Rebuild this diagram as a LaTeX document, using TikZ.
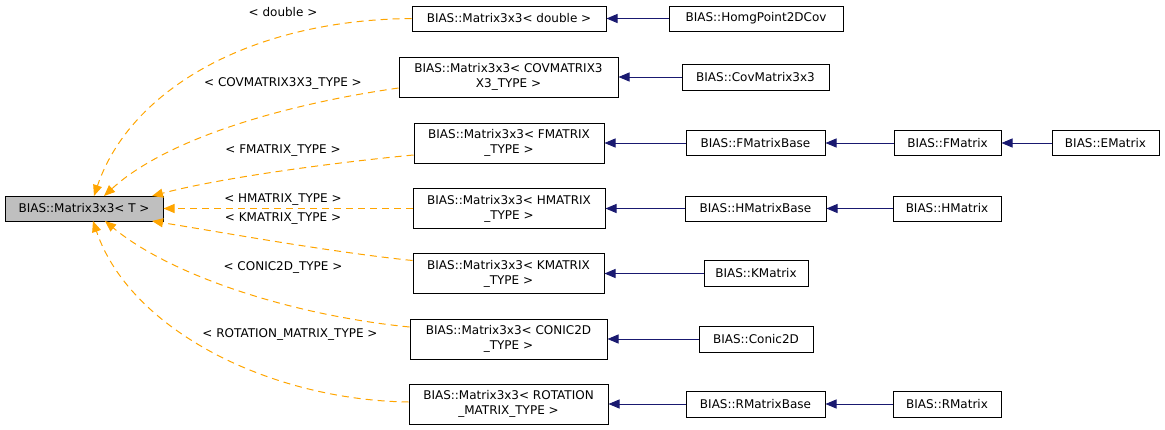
\documentclass[tikz,border=0pt]{standalone}
\usepackage{fontspec}
\setmainfont{DejaVu Sans}
\usetikzlibrary{arrows.meta,calc}
\definecolor{edgeorange}{HTML}{FFA500}
\definecolor{edgeblue}{HTML}{191970}
\definecolor{rootfill}{HTML}{BFBFBF}
\begin{document}
\begin{tikzpicture}[x=1pt,y=-1pt,
  box/.style={draw=black, line width=1pt, inner sep=0pt, align=center, font=\fontsize{12}{15}\selectfont},
  lbl/.style={inner sep=0pt, font=\fontsize{12}{15}\selectfont},
  inh/.style={draw=edgeblue, line width=1pt, -{Triangle[length=11pt,width=9pt]}},
  tmpl/.style={draw=edgeorange, line width=1pt, dash pattern=on 7pt off 5pt, -{Triangle[length=11pt,width=9pt]}}]
\useasboundingbox (0,0) rectangle (1165,429);

% root
\node[box, fill=rootfill, minimum width=158pt, minimum height=25pt] (root) at (84,208.5) {BIAS::Matrix3x3< T >};

% middle column
\node[box, minimum width=194pt, minimum height=25pt] (m1) at (509,18.5) {BIAS::Matrix3x3< double >};
\node[box, minimum width=219pt, minimum height=40pt] (m2) at (508.5,77) {BIAS::Matrix3x3< COVMATRIX3\\X3\_TYPE >};
\node[box, minimum width=190pt, minimum height=40pt] (m3) at (509,143) {BIAS::Matrix3x3< FMATRIX\\\_TYPE >};
\node[box, minimum width=192pt, minimum height=40pt] (m4) at (509,208.5) {BIAS::Matrix3x3< HMATRIX\\\_TYPE >};
\node[box, minimum width=191pt, minimum height=40pt] (m5) at (508.5,273.5) {BIAS::Matrix3x3< KMATRIX\\\_TYPE >};
\node[box, minimum width=197pt, minimum height=40pt] (m6) at (508.5,339) {BIAS::Matrix3x3< CONIC2D\\\_TYPE >};
\node[box, minimum width=199pt, minimum height=40pt] (m7) at (508.5,404) {BIAS::Matrix3x3< ROTATION\\\_MATRIX\_TYPE >};

% right column
\node[box, minimum width=174pt, minimum height=25pt] (r1) at (756,18.5) {BIAS::HomgPoint2DCov};
\node[box, minimum width=147pt, minimum height=26pt] (r2) at (755.5,77) {BIAS::CovMatrix3x3};
\node[box, minimum width=139pt, minimum height=25pt] (r3) at (755.5,143) {BIAS::FMatrixBase};
\node[box, minimum width=141pt, minimum height=25pt] (r4) at (755.5,208.5) {BIAS::HMatrixBase};
\node[box, minimum width=104pt, minimum height=26pt] (r5) at (756,273.5) {BIAS::KMatrix};
\node[box, minimum width=114pt, minimum height=26pt] (r6) at (756,339) {BIAS::Conic2D};
\node[box, minimum width=139pt, minimum height=26pt] (r7) at (755.5,404) {BIAS::RMatrixBase};

\node[box, minimum width=107pt, minimum height=25pt] (f) at (947.5,143) {BIAS::FMatrix};
\node[box, minimum width=108pt, minimum height=25pt] (h) at (947,208.5) {BIAS::HMatrix};
\node[box, minimum width=108pt, minimum height=26pt] (r) at (947,404) {BIAS::RMatrix};
\node[box, minimum width=107pt, minimum height=25pt] (e) at (1105.5,143) {BIAS::EMatrix};

% inheritance edges
\draw[inh] (r1.west) -- (m1.east);
\draw[inh] (r2.west) -- (m2.east);
\draw[inh] (r3.west) -- (m3.east);
\draw[inh] (f.west) -- (r3.east);
\draw[inh] (e.west) -- (f.east);
\draw[inh] (r4.west) -- (m4.east);
\draw[inh] (h.west) -- (r4.east);
\draw[inh] (r5.west) -- (m5.east);
\draw[inh] (r6.west) -- (m6.east);
\draw[inh] (r7.west) -- (m7.east);
\draw[inh] (r.west) -- (r7.east);

% arrow tips on root
\coordinate (t1) at (94,196);
\coordinate (t2) at (104,196);
\coordinate (t3) at (152,196);
\coordinate (t5) at (152,221);
\coordinate (t6) at (105,221);
\coordinate (t7) at (93,221);

% template edges
\draw[tmpl] (m1.west) .. controls (250,20) and (130,90) .. (t1);
\draw[tmpl] ($(m2.west)+(0,11)$) .. controls (280,105) and (165,140) .. (t2);
\draw[tmpl] ($(m3.west)+(0,12)$) .. controls (330,163) and (220,178) .. (t3);
\draw[tmpl] (m4.west) -- (root.east);
\draw[tmpl] ($(m5.west)+(0,-13)$) .. controls (330,252) and (220,232) .. (t5);
\draw[tmpl] ($(m6.west)+(0,-12)$) .. controls (290,315) and (170,275) .. (t6);
\draw[tmpl] ($(m7.west)+(0,-2)$) .. controls (270,400) and (130,330) .. (t7);

% labels
\node[lbl] (l1) at (283,12) {< double >};
\node[lbl] (l2) at (283,83) {< COVMATRIX3X3\_TYPE >};
\node[lbl] (l3) at (283,151) {< FMATRIX\_TYPE >};
\node[lbl] (l4) at (283,200) {< HMATRIX\_TYPE >};
\node[lbl] (l5) at (283,219) {< KMATRIX\_TYPE >};
\node[lbl] (l6) at (283,267) {< CONIC2D\_TYPE >};
\node[lbl] (l7) at (290,334) {< ROTATION\_MATRIX\_TYPE >};
\end{tikzpicture}
\end{document}
